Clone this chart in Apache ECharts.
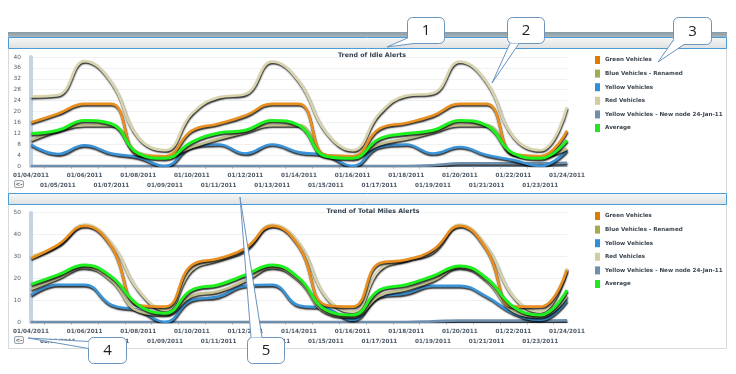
<!DOCTYPE html>
<html><head><meta charset="utf-8">
<script src="https://cdn.jsdelivr.net/npm/echarts@6/dist/echarts.min.js"></script>
<style>html,body{margin:0;padding:0;background:#fff}#c{width:736px;height:374px}</style>
</head><body><div id="c"></div>
<script>
// ---------- data ----------
const categories = ['01/04/2011','01/05/2011','01/06/2011','01/07/2011','01/08/2011','01/09/2011','01/10/2011',
  '01/11/2011','01/12/2011','01/13/2011','01/14/2011','01/15/2011','01/16/2011','01/17/2011',
  '01/18/2011','01/19/2011','01/20/2011','01/21/2011','01/22/2011','01/23/2011','01/24/2011'];
const seriesNames = ['Green Vehicles','Blue Vehicles - Renamed','Yellow Vehicles','Red Vehicles','Yellow Vehicles - New node 24-Jan-11','Average'];
const chartTitles = ['Trend of Idle Alerts','Trend of Total Miles Alerts'];

// Trend of Idle Alerts
const idleGreenVehicles = [16, 19.2, 22.8, 22.8, 4.2, 3.6, 13, 15.5, 18.5, 22.8, 22.8, 4, 3.6, 13.7, 15.8, 18.5, 22.8, 22.8, 4.4, 3.6, 13];
const idleBlueRenamed   = [9.5, 13, 15, 15, 5, 3.6, 7, 10, 12.5, 15, 15, 4, 3.6, 8, 10, 12.5, 15, 15, 4.5, 3.6, 6.4];
const idleYellow        = [7.9, 4.4, 7.6, 4.6, 3.2, 0, 7, 7.9, 4.6, 7.9, 5, 4, 0, 7, 7.9, 4.6, 7, 4, 2.2, 0, 5.8];
const idleRed           = [25.5, 26, 38.5, 30.7, 10.5, 5.8, 19.2, 25.2, 26.4, 38.3, 31, 12.5, 5.8, 19.2, 25.8, 26.7, 38.3, 30.7, 10.7, 5.8, 21.6];
const idleNewNode       = [0, 0, 0, 0, 0, 0, 0, 0, 0, 0, 0, 0, 0, 0, 0, 0.3, 1, 1, 1, 1, 1.2];
const idleAverage       = [11.9, 13.1, 16.7, 15.5, 4.6, 2.8, 8.8, 12.1, 13.1, 16.7, 14.9, 3.6, 2.8, 10, 11.9, 13.1, 16.7, 14.9, 4.6, 2.8, 9.5];

// Trend of Total Miles Alerts
const milesGreenVehicles = [29.1, 35.2, 43.9, 34.5, 7.8, 7, 26, 29, 33.7, 43.9, 34.5, 7.8, 7, 26.8, 28.4, 33, 43.9, 33, 7, 7, 23.8];
const milesBlueRenamed   = [15, 20, 25, 19, 5, 3.5, 12, 14, 19, 25, 19, 4.5, 2.5, 12, 15, 19, 25, 19, 5, 2.5, 12];
const milesYellow        = [12.3, 17, 17, 7.8, 5.5, 0, 10, 11.6, 16.5, 17, 7.5, 6.3, 1, 11.6, 13.1, 16.5, 16.5, 11.6, 4, 1, 10];
const milesRed           = [30, 35, 44.5, 36, 14.6, 5.5, 23.8, 28.4, 33, 44.4, 36, 11.6, 4.7, 23.8, 28.4, 32, 44.4, 34.5, 11.6, 4.7, 24.5];
const milesNewNode       = [0, 0, 0, 0, 0, 0, 0, 0, 0, 0, 0, 0, 0, 0, 0, 0.3, 0.7, 0.7, 0.7, 0.7, 0.8];
const milesAverage       = [17.2, 21.5, 26, 20.7, 7.8, 4, 14.6, 17, 21.5, 26, 20, 5.5, 3.2, 14.6, 17, 21, 25.6, 20, 7, 3.2, 14.6];

// ---------- styles ----------
const FONT = 'DejaVu Sans';
const iconColors = ['#e07b00', '#a3ac4c', '#2d8fd8', '#d2cda0', '#6f8fae', '#22e622'];
const lineColors = ['#e98f1f', '#c4bf8e', '#3a93d6', '#d8d4ae', '#6f8fae', '#1ff01f'];
const drawOrder = [4, 2, 1, 3, 0, 5];

const chart = echarts.init(document.getElementById('c'), null, {renderer: 'canvas'});

const grids = [
  {left: 31, right: 169, top: 57, height: 109},
  {left: 31, right: 169, top: 212.5, height: 109.5}
];
const midTicks = categories.slice(1).map((c, i) => i + 0.5);

function catAxis(g) {
  return {
    type: 'category', gridIndex: g, data: categories, boundaryGap: false,
    axisLine: {show: true, lineStyle: {color: '#8fb0cf', width: 1}},
    axisTick: {show: false},
    axisLabel: {
      interval: 0, fontFamily: FONT, fontSize: 5.7, fontWeight: 'bold', color: '#4d5966',
      margin: 5, lineHeight: 10,
      formatter: (v, i) => (i % 2 ? '\n' + v : v)
    },
    splitLine: {show: false}
  };
}
function tickAxis(g) {
  return {
    type: 'value', gridIndex: g, min: 0, max: categories.length - 1, position: 'bottom',
    axisLine: {show: false}, axisLabel: {show: false}, splitLine: {show: false},
    axisTick: {show: true, length: 3, customValues: midTicks, lineStyle: {color: '#c8ccd0'}}
  };
}
function valAxis(g, max, interval) {
  return {
    type: 'value', gridIndex: g, min: 0, max: max, interval: interval, offset: 2,
    axisLine: {show: true, lineStyle: {color: '#c3d3e4', width: 4, type: [9, 1]}},
    axisTick: {show: false},
    axisLabel: {fontFamily: FONT, fontSize: 5.8, color: '#555e66', margin: 8},
    splitLine: {show: true, lineStyle: {color: '#eef0f2', width: 1}}
  };
}

const dataSets = [
  [idleGreenVehicles, idleBlueRenamed, idleYellow, idleRed, idleNewNode, idleAverage],
  [milesGreenVehicles, milesBlueRenamed, milesYellow, milesRed, milesNewNode, milesAverage]
];

const series = [];
dataSets.forEach((set, g) => {
  drawOrder.forEach((k, order) => {
    series.push({
      type: 'line', name: seriesNames[k], xAxisIndex: g * 2, yAxisIndex: g,
      data: set[k], smooth: 0.45, symbol: 'none', showSymbol: false,
      itemStyle: {color: iconColors[k]},
      lineStyle: {color: lineColors[k], width: k === 5 ? 3 : 2.6,
        shadowColor: 'rgba(0,0,0,0.85)', shadowBlur: 1.5, shadowOffsetY: 1.6, shadowOffsetX: 0.5},
      emphasis: {disabled: true}, z: 2 + order
    });
  });
});

function legend(top) {
  return {
    orient: 'vertical', left: 590, top: top, data: seriesNames, icon: 'rect',
    itemWidth: 5, itemHeight: 8, itemGap: 5.6, selectedMode: false,
    textStyle: {fontFamily: FONT, fontSize: 5.6, fontWeight: 'bold', color: '#3c4650', lineHeight: 8}
  };
}

// ---------- chrome (panels, callouts) ----------
const BLUE = '#4b9bd6';
const CALLOUT = '#6a93bd';
function headerBar(y) {
  return {type: 'rect', shape: {x: 8.5, y: y, width: 718, height: 11}, z: -5,
    style: {fill: new echarts.graphic.LinearGradient(0, 0, 0, 1, [{offset: 0, color: '#f8f8f8'}, {offset: 1, color: '#dedfe0'}]),
      stroke: BLUE, lineWidth: 1}};
}
function backButton(y) {
  return {type: 'group', z: 5, children: [
    {type: 'rect', shape: {x: 14.5, y: y, width: 9, height: 7, r: 1.5}, style: {fill: '#f2f2f2', stroke: '#9aa4ad', lineWidth: 1}},
    {type: 'text', x: 19, y: y + 3.6, style: {text: '<-', fontFamily: FONT, fontSize: 5.5, fontWeight: 'bold', fill: '#555', align: 'center', verticalAlign: 'middle'}}
  ]};
}
function callout(label, x, y, w, h, b1, b2, tip) {
  return {type: 'group', z: 100, children: [
    {type: 'rect', z: 100, shape: {x: x + 0.5, y: y + 0.5, width: w, height: h, r: 5}, style: {fill: '#fff', stroke: CALLOUT, lineWidth: 1}},
    {type: 'polygon', z: 101, shape: {points: [b1, b2, tip]}, style: {fill: '#fff', stroke: null}},
    {type: 'polyline', z: 102, shape: {points: [b1, tip, b2]}, style: {fill: null, stroke: CALLOUT, lineWidth: 1}},
    {type: 'text', z: 103, x: x + w / 2 + 0.5, y: y + h / 2 + 1, style: {text: label, fontFamily: 'Open Sans', fontSize: 15, fill: '#1e1e1e', align: 'center', verticalAlign: 'middle'}}
  ]};
}

const graphic = [
  {type: 'rect', shape: {x: 8, y: 32, width: 719, height: 5}, z: -5,
    style: {fill: new echarts.graphic.LinearGradient(0, 0, 0, 1, [{offset: 0, color: '#8a9ba6'}, {offset: 1, color: '#a8b4bb'}])}},
  {type: 'polyline', z: -6, shape: {points: [[8.5, 48], [8.5, 348.5], [726.5, 348.5], [726.5, 48]]}, style: {fill: null, stroke: '#d6dadd', lineWidth: 1}},
  headerBar(37.5),
  headerBar(193.5),
  backButton(180.5),
  backButton(336.5),
  callout('1', 407, 17, 37, 26, [407.5, 38], [414, 43.5], [387, 47]),
  callout('2', 507, 17, 37, 26, [510, 43.5], [519, 43.5], [492, 83]),
  callout('3', 673, 17, 38, 27, [673.5, 40], [684, 44.5], [658, 62]),
  callout('4', 88, 337, 38, 26, [88.5, 341.5], [88.5, 348.5], [28, 338]),
  callout('5', 247, 337, 37, 26, [251, 337.5], [262, 337.5], [240, 197])
];

const option = {
  animation: false,
  backgroundColor: '#ffffff',
  title: [
    {text: chartTitles[0], left: 367, top: 47, textAlign: 'center', textStyle: {fontFamily: FONT, fontSize: 6.3, fontWeight: 'bold', color: '#34414e'}},
    {text: chartTitles[1], left: 368, top: 203, textAlign: 'center', textStyle: {fontFamily: FONT, fontSize: 6.3, fontWeight: 'bold', color: '#34414e'}}
  ],
  legend: [legend(51), legend(207)],
  grid: grids,
  xAxis: [catAxis(0), tickAxis(0), catAxis(1), tickAxis(1)],
  yAxis: [valAxis(0, 40, 4), valAxis(1, 50, 10)],
  series: series,
  graphic: graphic
};
chart.setOption(option);
</script>
</body></html>
